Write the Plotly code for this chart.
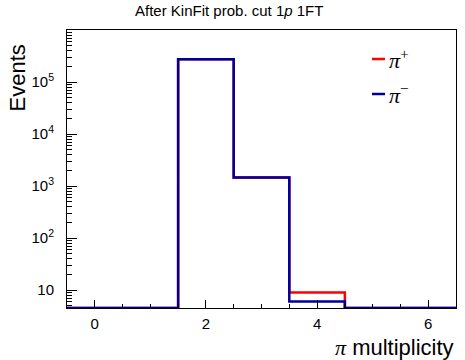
import numpy as np
import plotly.graph_objects as go

# Pion multiplicity histogram (bins centred on integers 0..6)
bin_edges = [-0.5, 0.5, 1.5, 2.5, 3.5, 4.5, 5.5, 6.5]
pi_plus_counts = [0, 0, 275000, 1450, 9, 0, 0]
pi_minus_counts = [0, 0, 275000, 1450, 6, 0, 0]

x_tick_vals = [0, 2, 4, 6]
y_tick_vals = [10, 100, 1000, 10000, 100000]
y_tick_text = ["10", "10<sup>2</sup>", "10<sup>3</sup>", "10<sup>4</sup>", "10<sup>5</sup>"]

Y_LOG_MIN, Y_LOG_MAX = 0.654, 6.0
y_floor = 10 ** Y_LOG_MIN

SANS = "Liberation Sans, Arial, Helvetica, sans-serif"
SERIF = "Liberation Serif, Times New Roman, serif"
RED = "#ff0000"
BLUE = "#000099"


def step_outline(counts):
    """Histogram outline: empty bins sit on the lower edge of the log axis."""
    ys = [c if c > 0 else y_floor for c in counts]
    return bin_edges, ys + [ys[-1]]


fig = go.Figure()
for counts, color, name in [(pi_plus_counts, RED, "pi+"), (pi_minus_counts, BLUE, "pi-")]:
    xs, ys = step_outline(counts)
    fig.add_trace(go.Scatter(x=xs, y=ys, mode="lines", line=dict(color=color, width=2.5, shape="hv"),
                             name=name, showlegend=False, hoverinfo="skip"))

# minor log ticks between decades
minor_vals = [m * 10 ** d for d in range(0, 6) for m in range(2, 10) if m * 10 ** d >= y_floor]

fig.update_layout(
    width=465, height=360,
    margin=dict(l=67, r=9, t=30, b=52),
    paper_bgcolor="white", plot_bgcolor="white",
    font=dict(family=SANS, color="black", size=16),
    xaxis=dict(range=[-0.5, 6.5], tickvals=x_tick_vals, ticks="inside", ticklen=8, tickwidth=1,
               tickcolor="black", showline=True, linecolor="black", linewidth=1, mirror=True,
               showgrid=False, zeroline=False, tickfont=dict(size=15), ticklabelstandoff=2,
               minor=dict(dtick=0.5, tick0=0, ticks="inside", ticklen=4, tickcolor="black", showgrid=False)),
    yaxis=dict(type="log", range=[Y_LOG_MIN, Y_LOG_MAX], tickvals=y_tick_vals, ticktext=y_tick_text,
               ticks="inside", ticklen=10, tickwidth=1, tickcolor="black", showline=True,
               linecolor="black", linewidth=1, mirror=True, showgrid=False, zeroline=False,
               tickfont=dict(size=15), ticklabelstandoff=9,
               minor=dict(tickvals=minor_vals, ticks="inside", ticklen=5, tickcolor="black", showgrid=False)),
)

annotations = [
    dict(text="After KinFit prob. cut 1<i>p</i> 1FT", xref="paper", yref="paper",
         x=(229 - 67) / 389, y=1 + 19 / 278, xanchor="center", yanchor="middle",
         showarrow=False, font=dict(size=15, family=SANS)),
    dict(text="Events", xref="paper", yref="paper", x=-50 / 389, y=(308 - 43) / 278, textangle=-90,
         xanchor="center", yanchor="top", showarrow=False, font=dict(size=22, family=SANS)),
    dict(text=f"<span style='font-family:{SERIF}'><i>π</i></span> multiplicity", xref="paper",
         yref="paper", x=1.0, y=-39 / 278, xanchor="right", yanchor="middle",
         showarrow=False, font=dict(size=22, family=SANS)),
]

# legend entries: short line sample + label
legend_rows = [(RED, "<i>π</i><sup>+</sup>", 59), (BLUE, "<i>π</i><sup>−</sup>", 94)]
shapes = []
for color, label, ypx in legend_rows:
    yp = (308 - ypx) / 278
    shapes.append(dict(type="line", xref="paper", yref="paper", x0=(372 - 67) / 389,
                       x1=(385 - 67) / 389, y0=yp, y1=yp, line=dict(color=color, width=2.5)))
    annotations.append(dict(text=label, xref="paper", yref="paper", x=(387 - 67) / 389, y=yp,
                            xanchor="left", yanchor="middle", showarrow=False,
                            font=dict(size=22, family=SERIF)))

fig.update_layout(annotations=annotations, shapes=shapes)
fig.write_html("out.html")
